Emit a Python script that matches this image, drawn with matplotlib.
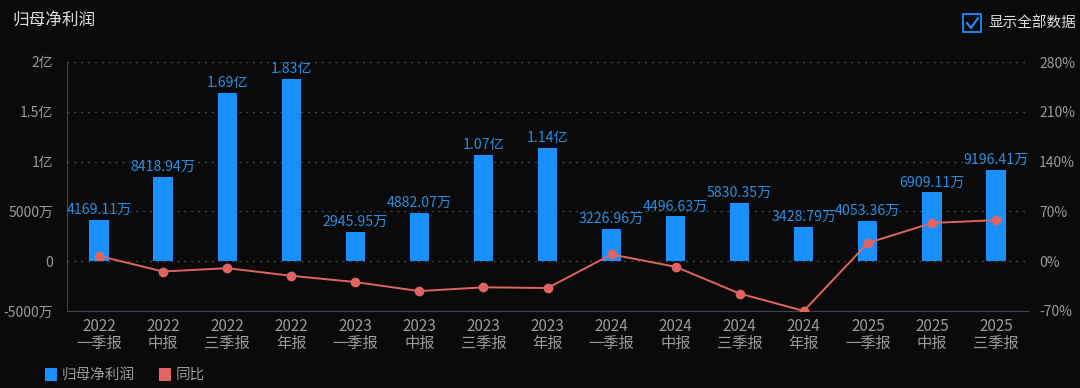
import matplotlib
matplotlib.use('Agg')
import matplotlib.pyplot as plt
from matplotlib.patches import Rectangle
from matplotlib.lines import Line2D
import numpy as np

plt.rcParams['font.family'] = ['Noto Sans CJK SC', 'DejaVu Sans']

years = ['2022', '2022', '2022', '2022', '2023', '2023', '2023', '2023',
         '2024', '2024', '2024', '2024', '2025', '2025', '2025']
periods = ['一季报', '中报', '三季报', '年报', '一季报', '中报', '三季报', '年报',
           '一季报', '中报', '三季报', '年报', '一季报', '中报', '三季报']
# 归母净利润, 单位: 万
profit = [4169.11, 8418.94, 16900, 18300, 2945.95, 4882.07, 10700, 11400,
          3226.96, 4496.63, 5830.35, 3428.79, 4053.36, 6909.11, 9196.41]
profit_labels = ['4169.11万', '8418.94万', '1.69亿', '1.83亿', '2945.95万', '4882.07万',
                 '1.07亿', '1.14亿', '3226.96万', '4496.63万', '5830.35万', '3428.79万',
                 '4053.36万', '6909.11万', '9196.41万']
# 同比, %
yoy = [7.4, -14.5, -9.8, -20.5, -29.3, -42.0, -36.7, -37.7,
       9.5, -7.9, -45.5, -69.9, 25.6, 53.7, 57.7]

left_ticks = [-5000, 0, 5000, 10000, 15000, 20000]
left_labels = ['-5000万', '0', '5000万', '1亿', '1.5亿', '2亿']
right_ticks = [-70, 0, 70, 140, 210, 280]
right_labels = ['-70%', '0%', '70%', '140%', '210%', '280%']

bg = '#0a0a0a'
blue = '#1a8fff'
red = '#e06461'
grey = '#9a9a9a'

fig = plt.figure(figsize=(10.8, 3.88), dpi=100, facecolor=bg)
ax = fig.add_axes([67 / 1080, 1 - 311 / 388, 961 / 1080, 249 / 388])
ax.set_facecolor(bg)

x = np.arange(len(profit))
ax.bar(x, profit, width=0.3, color=blue, zorder=2)
for xi, v, lab in zip(x, profit, profit_labels):
    ax.text(xi, v + 300, lab, ha='center', va='bottom', color='#2a8ee0', fontsize=10.2, zorder=4)

ax.set_xlim(-0.5, len(profit) - 0.5)
ax.set_ylim(-5000, 20000)
ax.set_yticks(left_ticks)
ax.set_yticklabels(left_labels)
ax.set_xticks(x)
ax.set_xticklabels([y + '\n' + p for y, p in zip(years, periods)], linespacing=1.0)
ax.tick_params(axis='both', length=0, colors=grey, labelsize=10)
ax.tick_params(axis='x', labelsize=11, pad=5)
ax.tick_params(axis='y', pad=10)
for yv in left_ticks[1:]:
    ax.axhline(yv, color='#4a4a4a', linestyle=(0, (1.5, 4)), linewidth=0.9, zorder=1)
for s in ['top', 'right']:
    ax.spines[s].set_visible(False)
ax.spines['left'].set_color('#3c4455')
ax.spines['bottom'].set_color('#3c4455')

ax2 = ax.twinx()
ax2.plot(x, yoy, color=red, linewidth=1.4, marker='o', markersize=6, zorder=3)
ax2.set_ylim(-70, 280)
ax2.set_yticks(right_ticks)
ax2.set_yticklabels(right_labels)
ax2.tick_params(axis='y', length=0, colors=grey, labelsize=10, pad=8)
for s in ax2.spines.values():
    s.set_visible(False)

fig.text(12 / 1080, 1 - 20 / 388, '归母净利润', color='#dddddd', fontsize=12, va='center', ha='left')

# checkbox
fig.add_artist(Rectangle((963 / 1080, 1 - 32 / 388), 18 / 1080, 18 / 388,
                         fill=False, edgecolor='#1a8fff', linewidth=1.3, transform=fig.transFigure))
fig.add_artist(Line2D([967 / 1080, 971 / 1080, 978 / 1080], [1 - 23 / 388, 1 - 28 / 388, 1 - 18 / 388],
                      color='#1a8fff', linewidth=1.5, transform=fig.transFigure))
fig.text(988 / 1080, 1 - 23 / 388, '显示全部数据', color='#dddddd', fontsize=10.5, va='center', ha='left')

# legend
fig.add_artist(Rectangle((45 / 1080, 1 - 381 / 388), 12 / 1080, 13 / 388,
                         facecolor=blue, edgecolor='none', transform=fig.transFigure))
fig.text(62 / 1080, 1 - 375 / 388, '归母净利润', color=grey, fontsize=10.5, va='center', ha='left')
fig.add_artist(Rectangle((159 / 1080, 1 - 381 / 388), 12 / 1080, 13 / 388,
                         facecolor=red, edgecolor='none', transform=fig.transFigure))
fig.text(176 / 1080, 1 - 375 / 388, '同比', color=grey, fontsize=10.5, va='center', ha='left')

fig.savefig('out.png', dpi=100, facecolor=bg)
